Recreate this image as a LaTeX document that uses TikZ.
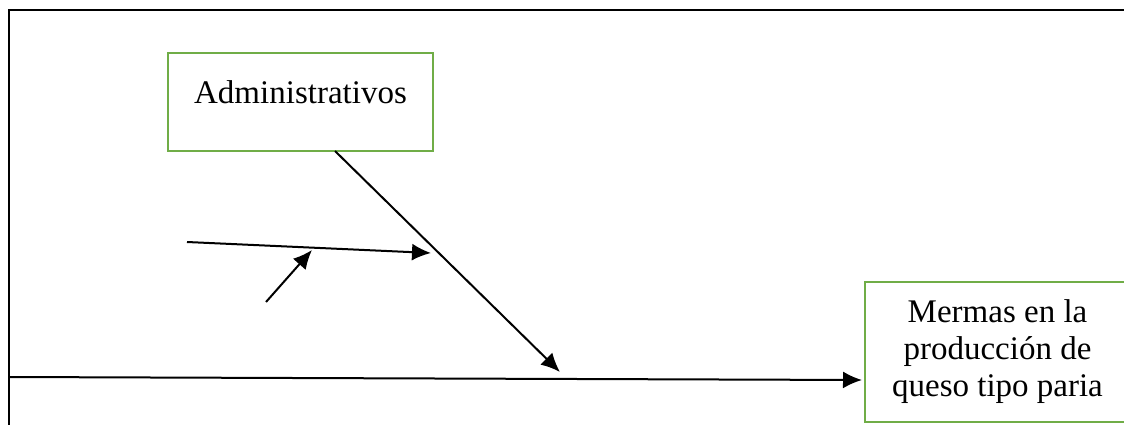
\documentclass[tikz,border=0pt]{standalone}
\usepackage{fontspec}
\setmainfont{Liberation Serif}
\usetikzlibrary{arrows.meta,positioning}
\definecolor{boxgreen}{RGB}{112,173,71}
\begin{document}
\begin{tikzpicture}[x=1pt,y=-1pt,
  causebox/.style={draw=boxgreen,line width=1.5pt,fill=white,align=center,font=\fontsize{33}{37}\selectfont},
  arr/.style={-{Latex[length=19pt,width=17pt]},line width=2pt}]
\useasboundingbox (0,0) rectangle (1124,425);
\clip (0,0) rectangle (1124,425);
\draw[line width=2.2pt] (9,430) -- (9,10) -- (1130,10);
\node[causebox,minimum width=265pt,minimum height=98pt,text height=23pt,text depth=20pt] (admin) at (300.5,102) {Administrativos};
\node[causebox,minimum width=265pt,minimum height=140pt] (merma) at (997.5,352) {Mermas en la\\producción de\\queso tipo paria};
\coordinate (spine) at (9,377);
\coordinate (head) at (862,380);
\coordinate (diag) at (335,151);
\coordinate (diagend) at (560,372);
\coordinate (sub) at (187,242);
\coordinate (subend) at (431,253);
\coordinate (subsub) at (266,302);
\coordinate (subsubend) at (312,250);
\draw[arr] (spine) -- (head);
\draw[arr] (diag) -- (diagend);
\draw[arr] (sub) -- (subend);
\draw[arr] (subsub) -- (subsubend);
\end{tikzpicture}
\end{document}
